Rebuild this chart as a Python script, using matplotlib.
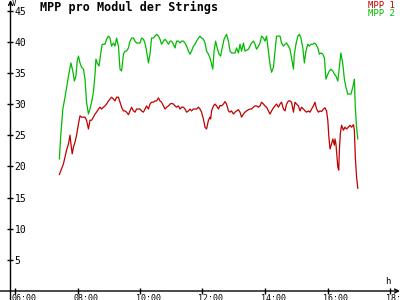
"""MPP voltage per module of the two strings over one day."""
import matplotlib
matplotlib.use("Agg")
from matplotlib import pyplot as plt
from matplotlib import transforms

# time of day in hours, voltage per module in V
mpp1_hours = [7.42, 7.49, 7.55, 7.60, 7.65, 7.71, 7.76, 7.79, 7.83, 7.87, 7.92, 7.97,
              8.03, 8.08, 8.13, 8.19, 8.24, 8.29, 8.35, 8.40, 8.45, 8.51, 8.56, 8.61,
              8.67, 8.72, 8.77, 8.83, 8.88, 8.93, 8.99, 9.04, 9.09, 9.15, 9.20, 9.25,
              9.31, 9.36, 9.41, 9.47, 9.52, 9.57, 9.63, 9.68, 9.73, 9.79, 9.84, 9.89,
              9.95, 10.00, 10.05, 10.11, 10.16, 10.21, 10.27, 10.32, 10.37, 10.43, 10.48,
              10.53, 10.59, 10.64, 10.69, 10.75, 10.80, 10.85, 10.91, 10.96, 11.01, 11.07,
              11.12, 11.17, 11.23, 11.28, 11.33, 11.39, 11.44, 11.49, 11.55, 11.60, 11.65,
              11.71, 11.76, 11.81, 11.87, 11.92, 11.97, 12.03, 12.08, 12.13, 12.19, 12.24,
              12.26, 12.29, 12.35, 12.40, 12.45, 12.51, 12.56, 12.61, 12.67, 12.72, 12.77,
              12.83, 12.88, 12.93, 12.99, 13.04, 13.09, 13.15, 13.20, 13.25, 13.31, 13.36,
              13.41, 13.47, 13.52, 13.57, 13.63, 13.68, 13.73, 13.79, 13.84, 13.89, 13.95,
              14.00, 14.05, 14.11, 14.16, 14.21, 14.27, 14.32, 14.37, 14.43, 14.48, 14.53,
              14.59, 14.64, 14.69, 14.75, 14.80, 14.85, 14.91, 14.96, 15.01, 15.07, 15.12,
              15.17, 15.23, 15.28, 15.33, 15.39, 15.44, 15.49, 15.55, 15.60, 15.65, 15.71,
              15.76, 15.81, 15.87, 15.92, 15.97, 16.01, 16.04, 16.08, 16.13, 16.17, 16.22,
              16.24, 16.27, 16.29, 16.33, 16.36, 16.38, 16.41, 16.45, 16.51, 16.56, 16.61,
              16.67, 16.72, 16.77, 16.83, 16.86, 16.89, 16.93, 16.97]
mpp1_volts = [18.7, 19.6, 20.4, 21.5, 22.6, 23.6, 25.0, 23.6, 22.0, 23.1, 23.9, 25.0,
              26.8, 28.1, 27.9, 27.9, 27.9, 27.4, 26.0, 27.4, 27.4, 27.9, 28.4, 28.7,
              29.2, 29.5, 29.2, 29.5, 29.7, 30.0, 30.5, 30.8, 31.1, 30.8, 30.5, 31.1,
              31.1, 30.3, 29.5, 28.9, 28.9, 28.7, 28.3, 28.9, 29.5, 28.9, 28.7, 29.2,
              29.2, 29.2, 28.9, 28.7, 29.2, 29.7, 29.2, 30.0, 30.3, 30.3, 30.5,
              30.5, 31.0, 30.5, 30.3, 29.7, 29.2, 29.5, 29.7, 30.0, 30.1, 30.0,
              29.7, 29.5, 29.7, 29.2, 29.5, 29.5, 29.2, 28.7, 28.9, 29.2, 28.9,
              29.2, 29.2, 29.2, 29.5, 29.2, 28.7, 27.6, 26.3, 26.0, 27.4, 27.9,
              27.6, 28.9, 29.7, 30.0, 29.7, 29.2, 29.8, 29.7, 30.0, 30.4, 30.0,
              28.9, 28.7, 28.9, 28.4, 28.7, 28.9, 29.1, 28.7, 27.9, 28.4, 28.7,
              28.9, 29.1, 29.2, 29.2, 29.5, 29.7, 29.7, 29.5, 29.7, 30.3, 30.0,
              29.7, 29.5, 28.9, 28.4, 28.9, 29.4, 29.7, 30.0, 29.5, 30.0, 30.3,
              29.2, 28.9, 30.0, 30.5, 30.5, 30.3, 28.7, 30.3, 30.0, 29.7, 28.9,
              29.5, 29.2, 28.9, 28.7, 28.9, 28.7, 29.2, 29.7, 30.3, 29.2, 28.7,
              28.9, 28.8, 29.2, 29.4, 28.9, 27.4, 25.0, 22.8, 23.6, 24.4, 23.4,
              24.4, 23.6, 22.3, 19.9, 19.4, 22.6, 25.2, 26.6, 25.8, 26.3, 26.0,
              26.3, 26.6, 26.3, 26.7, 25.8, 21.5, 18.3, 16.5]

mpp2_hours = [7.42, 7.46, 7.53, 7.60, 7.67, 7.74, 7.79, 7.85, 7.90, 7.95, 7.99, 8.03,
              8.08, 8.13, 8.19, 8.24, 8.29, 8.35, 8.40, 8.45, 8.51, 8.56, 8.59, 8.63,
              8.69, 8.74, 8.79, 8.88, 8.93, 8.99, 9.04, 9.09, 9.15, 9.20, 9.25, 9.31,
              9.36, 9.41, 9.47, 9.52, 9.57, 9.63, 9.68, 9.73, 9.79, 9.84, 9.89, 10.00,
              10.05, 10.11, 10.16, 10.21, 10.27, 10.32, 10.37, 10.43, 10.48, 10.53, 10.59,
              10.64, 10.69, 10.75, 10.80, 10.85, 10.91, 10.96, 11.01, 11.07, 11.12, 11.17,
              11.23, 11.28, 11.33, 11.39, 11.44, 11.49, 11.55, 11.60, 11.65, 11.71, 11.76,
              11.81, 11.87, 11.92, 11.97, 12.03, 12.08, 12.13, 12.19, 12.24, 12.29, 12.33,
              12.37, 12.42, 12.47, 12.53, 12.58, 12.63, 12.69, 12.77, 12.83, 12.88, 12.93,
              13.04, 13.09, 13.15, 13.20, 13.25, 13.31, 13.36, 13.47, 13.52, 13.57, 13.63,
              13.68, 13.73, 13.79, 13.84, 13.89, 13.95, 14.00, 14.05, 14.11, 14.16, 14.21,
              14.27, 14.32, 14.37, 14.48, 14.53, 14.59, 14.64, 14.69, 14.75, 14.80, 14.85,
              14.91, 14.94, 14.99, 15.05, 15.10, 15.15, 15.21, 15.26, 15.31, 15.37, 15.42,
              15.47, 15.53, 15.58, 15.63, 15.69, 15.74, 15.79, 15.85, 15.90, 15.95, 16.01,
              16.06, 16.11, 16.17, 16.22, 16.27, 16.33, 16.38, 16.43, 16.49, 16.54, 16.59,
              16.65, 16.75, 16.81, 16.86, 16.89, 16.93, 16.97]
mpp2_volts = [21.2, 24.7, 29.2, 31.1, 33.2, 35.3, 36.6, 35.3, 33.7, 34.5, 36.9, 37.7,
              36.6, 35.9, 35.6, 34.0, 30.3, 28.4, 29.2, 30.3, 31.9, 34.8, 37.2, 36.6,
              36.1, 38.0, 39.6, 39.6, 40.4, 40.9, 40.6, 39.3, 39.8, 39.3, 40.6, 39.3,
              35.6, 35.3, 38.0, 38.5, 38.5, 39.0, 40.1, 40.6, 40.6, 40.1, 39.8, 39.8,
              40.6, 40.4, 39.8, 38.5, 36.6, 38.0, 40.6, 40.6, 40.9, 41.2, 40.9,
              40.4, 39.6, 40.1, 40.4, 40.1, 39.6, 40.1, 40.1, 39.6, 39.0, 40.1,
              40.1, 39.8, 40.1, 40.1, 39.8, 39.3, 38.5, 38.0, 38.5, 39.3, 39.6,
              40.1, 40.6, 40.9, 40.6, 40.4, 39.8, 38.5, 38.0, 37.4, 36.4, 35.6,
              38.5, 40.1, 39.0, 38.0, 37.7, 39.0, 40.4, 41.2, 40.1, 38.5, 38.2,
              38.2, 39.0, 38.2, 39.6, 38.5, 39.8, 38.5, 38.8, 39.3, 39.8, 40.1,
              39.6, 38.8, 39.3, 39.8, 40.9, 40.6, 40.1, 40.9, 38.5, 36.4, 35.1,
              35.9, 38.5, 40.9, 40.9, 39.8, 39.3, 39.6, 39.8, 39.3, 38.8, 37.4,
              35.6, 38.0, 39.6, 40.9, 41.2, 40.6, 39.0, 36.6, 38.5, 39.6, 39.3,
              39.6, 39.6, 39.8, 39.6, 39.0, 38.0, 38.2, 38.0, 37.4, 34.0, 34.8,
              35.3, 35.6, 35.3, 34.8, 34.5, 33.7, 35.9, 38.2, 36.4, 34.0, 32.7,
              31.6, 31.6, 32.7, 34.0, 29.5, 26.3, 24.4]

x_ticks = [6, 8, 10, 12, 14, 16, 18]
x_tick_labels = ["06:00", "08:00", "10:00", "12:00", "14:00", "16:00", "18:00"]
y_ticks = [5, 10, 15, 20, 25, 30, 35, 40, 45]

RED = "#c00000"
GREEN = "#00bb00"
MONO = "DejaVu Sans Mono"

fig = plt.figure(figsize=(4, 3), dpi=100, facecolor="white")
ax = fig.add_axes([10 / 400, 9 / 300, 390 / 400, 291 / 300])
ax.set_facecolor("white")

ax.plot(mpp1_hours, mpp1_volts, color=RED, linewidth=0.9)
ax.plot(mpp2_hours, mpp2_volts, color=GREEN, linewidth=0.9)

ax.set_xlim(5.84, 18.32)
ax.set_ylim(0, 46.7)
for side in ["top", "right", "left", "bottom"]:
    ax.spines[side].set_visible(False)

# axis lines with arrow heads
ax.annotate("", xy=(1.0, 9 / 300), xytext=(0.0, 9 / 300), xycoords="figure fraction",
            textcoords="figure fraction",
            arrowprops=dict(arrowstyle="->", color="black", lw=1, mutation_scale=7,
                            shrinkA=0, shrinkB=0))
ax.annotate("", xy=(10.5 / 400, 1.0), xytext=(10.5 / 400, 0.0), xycoords="figure fraction",
            textcoords="figure fraction",
            arrowprops=dict(arrowstyle="->", color="black", lw=1, mutation_scale=7,
                            shrinkA=0, shrinkB=0))

ax.set_xticks(x_ticks)
ax.set_xticklabels(x_tick_labels, fontfamily=MONO, fontsize=6)
ax.set_yticks(y_ticks)
ax.set_yticklabels([str(v) for v in y_ticks], fontfamily=MONO, fontsize=7)
ax.tick_params(axis="both", direction="inout", length=4.5, width=1, color="black")
ax.tick_params(axis="x", pad=0)
ax.tick_params(axis="y", pad=-5.5)
shift = transforms.ScaledTranslation(-4 / 100, 0, fig.dpi_scale_trans)
for lab in ax.get_xticklabels():
    lab.set_horizontalalignment("left")
    lab.set_transform(lab.get_transform() + shift)
for lab in ax.get_yticklabels():
    lab.set_horizontalalignment("left")

fig.text(40 / 400, 1 - 7.5 / 300, "MPP pro Modul der Strings", ha="left", va="center",
         fontfamily=MONO, fontsize=8.5, fontweight="bold")
fig.text(395 / 400, 1 - 5.5 / 300, "MPP 1", ha="right", va="center",
         fontfamily=MONO, fontsize=6.5, color=RED)
fig.text(395 / 400, 1 - 13 / 300, "MPP 2", ha="right", va="center",
         fontfamily=MONO, fontsize=6.5, color=GREEN)
fig.text(12 / 400, 1 - 3.5 / 300, "V", ha="left", va="center",
         fontfamily=MONO, fontsize=5.5)
fig.text(385 / 400, 1 - 281 / 300, "h", ha="left", va="center",
         fontfamily=MONO, fontsize=6.5)

fig.savefig("out.png", dpi=100, facecolor="white")
